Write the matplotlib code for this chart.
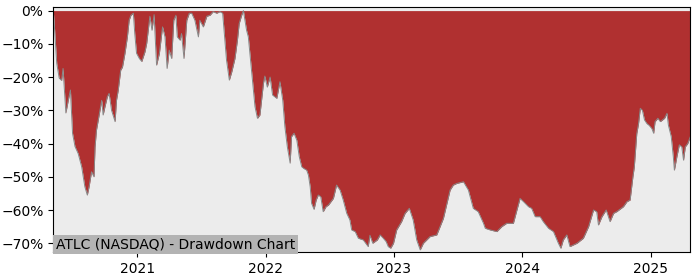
import matplotlib
matplotlib.use("Agg")
import matplotlib.pyplot as plt
import matplotlib.dates as mdates
from matplotlib.ticker import PercentFormatter
import pandas as pd

ticker = "ATLC (NASDAQ)"

dates = [
    "2020-05-07", "2020-05-09", "2020-05-17", "2020-05-24", "2020-05-31",
    "2020-06-04", "2020-06-12", "2020-06-19", "2020-06-25", "2020-07-01",
    "2020-07-08", "2020-07-17", "2020-07-27", "2020-08-05", "2020-08-12",
    "2020-08-17", "2020-08-24", "2020-08-31", "2020-09-03", "2020-09-07",
    "2020-09-17", "2020-09-22", "2020-09-26", "2020-10-01", "2020-10-08",
    "2020-10-13", "2020-10-20", "2020-10-30", "2020-11-03", "2020-11-08",
    "2020-11-15", "2020-11-20", "2020-11-27", "2020-12-04", "2020-12-09",
    "2020-12-14", "2020-12-21", "2020-12-25", "2020-12-30", "2021-01-07",
    "2021-01-14", "2021-01-23", "2021-01-28", "2021-02-06", "2021-02-12",
    "2021-02-18", "2021-02-25", "2021-03-05", "2021-03-14", "2021-03-21",
    "2021-03-27", "2021-04-02", "2021-04-09", "2021-04-15", "2021-04-21",
    "2021-04-25", "2021-05-03", "2021-05-07", "2021-05-14", "2021-05-22",
    "2021-05-29", "2021-06-05", "2021-06-14", "2021-06-24", "2021-06-28",
    "2021-07-08", "2021-07-18", "2021-07-27", "2021-08-05", "2021-08-15",
    "2021-08-24", "2021-09-01", "2021-09-05", "2021-09-12", "2021-09-20",
    "2021-09-27", "2021-10-06", "2021-10-13", "2021-10-18", "2021-10-25",
    "2021-10-30", "2021-11-08", "2021-11-13", "2021-11-23", "2021-12-02",
    "2021-12-09", "2021-12-16", "2021-12-26", "2021-12-30", "2022-01-06",
    "2022-01-14", "2022-01-21", "2022-02-02", "2022-02-11", "2022-02-19",
    "2022-02-25", "2022-03-04", "2022-03-12", "2022-03-16", "2022-03-23",
    "2022-03-31", "2022-04-07", "2022-04-14", "2022-04-20", "2022-04-28",
    "2022-05-03", "2022-05-08", "2022-05-12", "2022-05-19", "2022-05-25",
    "2022-05-31", "2022-06-07", "2022-06-14", "2022-06-22", "2022-06-29",
    "2022-07-13", "2022-07-22", "2022-08-01", "2022-08-10", "2022-08-20",
    "2022-08-29", "2022-09-03", "2022-09-13", "2022-09-22", "2022-10-06",
    "2022-10-20", "2022-10-25", "2022-11-02", "2022-11-15", "2022-11-23",
    "2022-12-02", "2022-12-10", "2022-12-16", "2022-12-23", "2022-12-31",
    "2023-01-09", "2023-01-23", "2023-02-02", "2023-02-14", "2023-02-25",
    "2023-03-07", "2023-03-17", "2023-03-26", "2023-04-14", "2023-05-03",
    "2023-05-22", "2023-06-10", "2023-06-19", "2023-06-29", "2023-07-18",
    "2023-08-01", "2023-08-15", "2023-08-29", "2023-09-13", "2023-09-18",
    "2023-10-02", "2023-10-21", "2023-11-04", "2023-11-18", "2023-12-07",
    "2023-12-17", "2023-12-26", "2024-01-05", "2024-01-19", "2024-01-28",
    "2024-02-07", "2024-02-21", "2024-03-01", "2024-03-16", "2024-03-30",
    "2024-04-13", "2024-04-20", "2024-04-27", "2024-05-07", "2024-05-16",
    "2024-06-05", "2024-06-23", "2024-07-08", "2024-07-22", "2024-07-31",
    "2024-08-05", "2024-08-15", "2024-08-27", "2024-09-07", "2024-09-17",
    "2024-09-26", "2024-10-15", "2024-10-25", "2024-11-03", "2024-11-11",
    "2024-11-15", "2024-11-22", "2024-11-27", "2024-12-02", "2024-12-08",
    "2024-12-14", "2024-12-21", "2024-12-27", "2025-01-04", "2025-01-09",
    "2025-01-13", "2025-01-21", "2025-01-28", "2025-02-09", "2025-02-16",
    "2025-02-20", "2025-02-28", "2025-03-06", "2025-03-09", "2025-03-16",
    "2025-03-23", "2025-03-30", "2025-04-04", "2025-04-09", "2025-04-16",
    "2025-04-23",
]

drawdown = [
    0, -2.4, -15.8, -20.3, -21,
    -17.4, -30.8, -26.9, -23.9, -36.9,
    -40.9, -43, -47, -53, -55.5,
    -53, -48.5, -50, -41, -36,
    -30, -27, -31.4, -29, -25.9,
    -24.9, -30, -33.4, -27, -23.9,
    -17.9, -17, -12.9, -7.9, -2.9,
    -1.4, -0.8, -6.9, -12.8, -14.4,
    -15.3, -12.4, -9.8, -1.7, -5.9,
    -1.2, -16.4, -12.9, -4.9, -7.9,
    -17.4, -11.9, -14.4, -2.9, -1.4,
    -7.9, -8.9, -6.9, -14.4, -2.9,
    -0.8, -0.8, -2.9, -7.9, -2.9,
    -4.9, -1.7, -1.4, -0.3, -0.8,
    -0.3, -0.8, -5.9, -14.9, -20.9,
    -18.4, -14.4, -8.9, -3.9, -1.4,
    0, -5.9, -7.9, -18.9, -28.9,
    -32.4, -31.4, -21.9, -19.7, -23,
    -20, -25.4, -26.4, -21.4, -27,
    -34.9, -41, -45.9, -37.9, -36.9,
    -39, -44, -47, -47.5, -48,
    -49.5, -53, -58, -59.8, -57,
    -55.5, -56, -60.5, -59, -58.5,
    -56.5, -52.5, -54, -57, -61,
    -63, -66, -66.5, -68.5, -69,
    -71, -67.6, -70, -69, -67.5,
    -68.5, -69.5, -71, -71.5, -70,
    -66, -63.5, -61, -59.5, -63,
    -69, -72, -70, -68, -67.5,
    -62.5, -54, -52.5, -52, -51.5,
    -54, -59.5, -60.5, -64, -65.5,
    -66, -66.5, -65, -64, -64,
    -60, -56.5, -57.5, -59, -59.5,
    -62, -62, -63.5, -65.5, -66.5,
    -70, -71.5, -69, -67.5, -71,
    -70, -68.5, -65, -60, -60.5,
    -64.5, -62, -60, -63.5, -61,
    -60.5, -59, -57.5, -57, -50,
    -47, -37, -34, -29.4, -30,
    -32.9, -34, -34.5, -35.5, -36.9,
    -33.4, -32.4, -33.4, -32.4, -30.9,
    -34.5, -37.9, -44, -48, -44,
    -40.4, -41, -45, -41, -40,
    -38,
]

x = pd.to_datetime(dates)

fig = plt.figure(figsize=(7, 2.8), dpi=100)
ax = fig.add_axes([0.076, 0.099, 0.91, 0.875])
ax.set_facecolor("#ececec")

ax.fill_between(x, drawdown, 0, color="#b03030", linewidth=0)
ax.plot(x, drawdown, color="#888888", linewidth=0.7)

ax.set_xlim(x[0], x[-1])
ax.set_ylim(min(drawdown) * 1.01, 1)
ax.set_yticks(range(0, -71, -10))
ax.yaxis.set_major_formatter(PercentFormatter(decimals=0))
ax.xaxis.set_major_locator(mdates.YearLocator())
ax.xaxis.set_major_formatter(mdates.DateFormatter("%Y"))

ax.text(0.004, 0.004, ticker + " - Drawdown Chart", transform=ax.transAxes,
        fontsize=10, ha="left", va="bottom",
        bbox=dict(facecolor="#b3b3b3", edgecolor="none", pad=2))

fig.savefig("out.png")
